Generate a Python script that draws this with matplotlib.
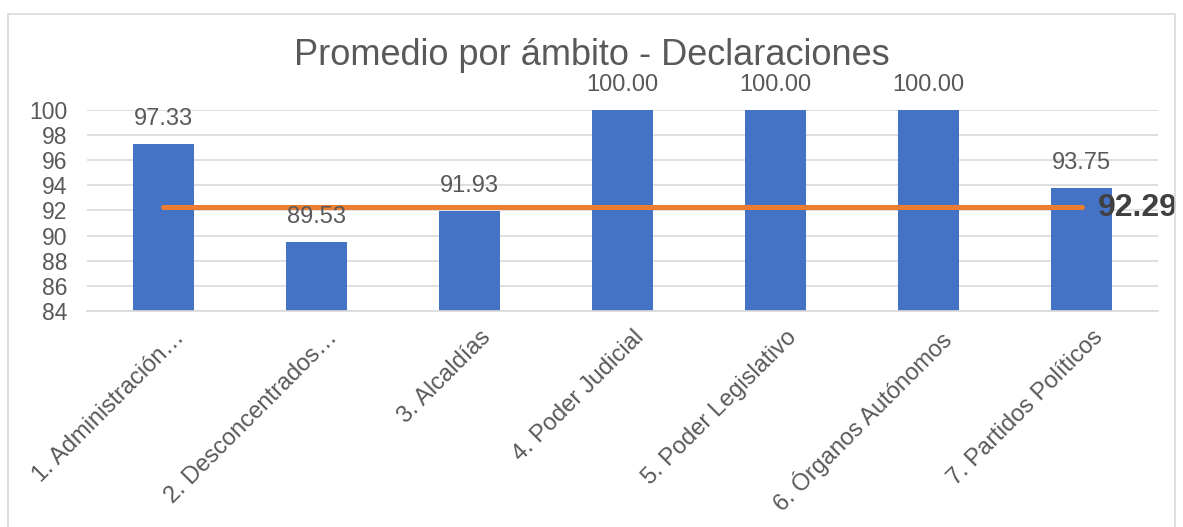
import matplotlib.pyplot as plt
from matplotlib.patches import Rectangle
from matplotlib.transforms import ScaledTranslation

plt.rcParams['font.family'] = ['Liberation Sans', 'DejaVu Sans']

categories = [
    "1. Administración…",
    "2. Desconcentrados…",
    "3. Alcaldías",
    "4. Poder Judicial",
    "5. Poder Legislativo",
    "6. Órganos Autónomos",
    "7. Partidos Políticos",
]
scores = [97.33, 89.53, 91.93, 100.00, 100.00, 100.00, 93.75]
average = 92.29
yticks = [84, 86, 88, 90, 92, 94, 96, 98, 100]

text_color = "#595959"
bar_color = "#4472C4"
line_color = "#ED7D31"
grid_color = "#D9D9D9"


def main():
    fig = plt.figure(figsize=(11.83, 5.27), dpi=100)
    ax = fig.add_axes([0.0735, 0.4099, 0.9055, 0.3814])

    # outer chart border
    fig.patches.append(Rectangle((8 / 1183, -0.01), 1167 / 1183, 1 - 14 / 527 + 0.01,
                                 transform=fig.transFigure, fill=False,
                                 edgecolor="#D9D9D9", linewidth=1.2))

    x = list(range(len(categories)))
    ax.bar(x, scores, width=0.4, color=bar_color, zorder=2)
    ax.plot([x[0], x[-1]], [average, average], color=line_color,
            linewidth=3.6, solid_capstyle="round", zorder=3)

    for xi, v in zip(x, scores):
        ax.annotate("%.2f" % v, (xi, v), xytext=(0, 18), textcoords="offset points",
                    ha="center", va="center", fontsize=17, color=text_color,
                    annotation_clip=False)

    ax.annotate("%.2f" % average, (x[-1], average), xytext=(12, -1),
                textcoords="offset points", ha="left", va="center",
                fontsize=23, fontweight="bold", color="#404040",
                annotation_clip=False)

    ax.set_xlim(-0.5, len(categories) - 0.5)
    ax.set_ylim(84, 100)
    ax.set_yticks(yticks)
    ax.set_yticklabels([str(t) for t in yticks], fontsize=16.5, color=text_color)
    ax.set_xticks(x)
    ax.set_xticklabels(categories, rotation=45, ha="right", rotation_mode="anchor",
                       fontsize=17, color=text_color)
    ax.tick_params(axis="both", length=0)
    ax.tick_params(axis="x", pad=9)
    ax.tick_params(axis="y", pad=14)
    # nudge rotated labels right so their ends sit a bit past the bar centre
    shift = ScaledTranslation(10 / 100, -3 / 100, fig.dpi_scale_trans)
    for lbl in ax.get_xticklabels():
        lbl.set_transform(lbl.get_transform() + shift)

    ax.grid(axis="y", color=grid_color, linewidth=1.2, zorder=0)
    ax.set_axisbelow(True)
    for side in ["top", "right", "left"]:
        ax.spines[side].set_visible(False)
    ax.spines["bottom"].set_color(grid_color)
    ax.spines["bottom"].set_linewidth(1.2)

    fig.text(0.5, 1 - 56 / 527, "Promedio por ámbito - Declaraciones",
             ha="center", va="center", fontsize=26, color=text_color)

    fig.savefig("out.png", dpi=100)


if __name__ == '__main__':
    main()
